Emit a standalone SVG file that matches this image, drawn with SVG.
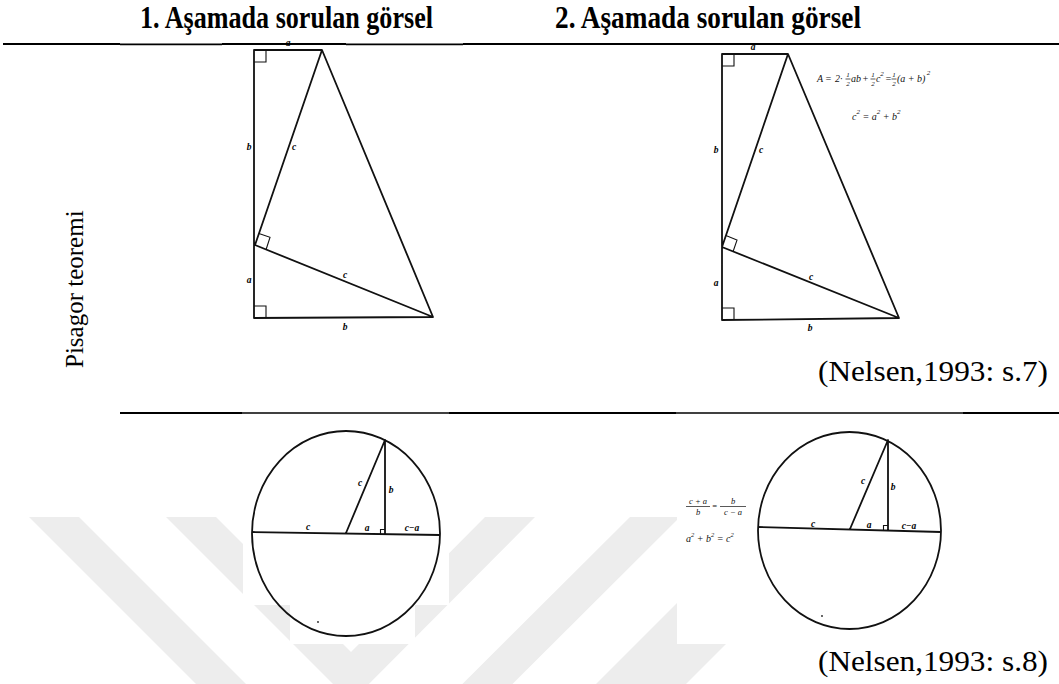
<svg xmlns="http://www.w3.org/2000/svg" width="1059" height="684" viewBox="0 0 1059 684">
<style>
.hdr{font-family:"Liberation Serif","Times New Roman",serif;font-weight:bold;font-size:31px;fill:#000}
.src{font-family:"Liberation Serif","Times New Roman",serif;font-size:30px;fill:#000}
.side{font-family:"Liberation Serif","Times New Roman",serif;font-size:25px;fill:#000}
.lbl{font-family:"Liberation Serif","Times New Roman",serif;font-style:italic;font-weight:bold;font-size:9.5px;fill:#000;text-anchor:middle}
.fm{font-family:"Liberation Serif","Times New Roman",serif;font-style:italic;font-size:10px;fill:#111}
.fs{font-family:"Liberation Serif","Times New Roman",serif;font-style:italic;font-size:7px;fill:#111;text-anchor:middle}
.fb{font-family:"Liberation Serif","Times New Roman",serif;font-style:italic;font-size:8.5px;fill:#111;text-anchor:middle}
.fig{fill:none;stroke:#111;stroke-width:1.8;stroke-linejoin:round}
.thin{fill:none;stroke:#111;stroke-width:1.1}
.bar{stroke:#111;stroke-width:0.7}
.rule{stroke:#000;stroke-width:2.2}
.rule2{stroke:#000;stroke-width:1.7}
.wm{fill:#ededed}
</style>
<rect width="1059" height="684" fill="#fff"/>
<g id="watermark">
<polygon class="wm" points="29,517 79,517 354,792 630,517 680,517 354,842"/>
<polygon class="wm" points="166,517 216,517 351,652 485,517 535,517 351,702"/>
<polygon class="wm" points="720,560 810,560 679,691 589,691"/>
<rect x="243" y="420" width="206" height="185" fill="#fff"/>
<rect x="290" y="604" width="125" height="40" fill="#fff"/>
<rect x="677" y="420" width="283" height="224" fill="#fff"/>
</g>
<g id="header">
<text class="hdr" x="140" y="28" textLength="293" lengthAdjust="spacingAndGlyphs">1. Aşamada sorulan görsel</text>
<text class="hdr" x="555" y="28" textLength="306" lengthAdjust="spacingAndGlyphs">2. Aşamada sorulan görsel</text>
<line class="rule" x1="3" y1="44" x2="120" y2="44"/>
<line class="rule2" x1="120" y1="44.3" x2="222" y2="44.3"/>
<line class="rule" x1="222" y1="44" x2="346" y2="44"/>
<line class="rule2" x1="346" y1="44.3" x2="463" y2="44.3"/>
<line class="rule" x1="463" y1="44" x2="1059" y2="44"/>
<line class="rule" x1="120" y1="413" x2="242" y2="413"/>
<line class="rule2" x1="242" y1="413" x2="449" y2="413"/>
<line class="rule" x1="449" y1="413" x2="676" y2="413"/>
<line class="rule2" x1="676" y1="413" x2="963" y2="413"/>
<line class="rule" x1="963" y1="413" x2="1059" y2="413"/>
</g>
<g id="side-label">
<text class="side" transform="translate(83,368) rotate(-90)">Pisagor teoremi</text>
</g>
<g id="fig1-triangle">
<path class="fig" d="M322,50 L254,50 L254,318 L433,317 Z M322,50 L255,245 L433,317"/>
<path class="thin" d="M254,62 H266 V50 M254,306 H266 V318 M258.9,233.6 L270,237.3 L266.1,249.5"/>
<text class="lbl" x="288" y="46">a</text>
<text class="lbl" x="249" y="150">b</text>
<text class="lbl" x="294" y="150">c</text>
<text class="lbl" x="249" y="283">a</text>
<text class="lbl" x="345" y="278">c</text>
<text class="lbl" x="345" y="330">b</text>
</g>
<g id="fig2-triangle">
<path class="fig" d="M788,54 L722,54 L722,320 L899,318 Z M788,54 L722,247 L899,318"/>
<path class="thin" d="M722,66 H734 V54 M722,308 H734 V320 M725.9,235.6 L737,240.1 L733.1,251.5"/>
<text class="lbl" x="753" y="50">a</text>
<text class="lbl" x="716" y="153">b</text>
<text class="lbl" x="761" y="153">c</text>
<text class="lbl" x="716" y="286">a</text>
<text class="lbl" x="811" y="280">c</text>
<text class="lbl" x="810" y="331">b</text>
<text class="fm" x="817" y="82">A</text>
<text class="fm" x="825" y="82">=</text>
<text class="fm" x="835" y="82">2·</text>
<text class="fs" x="848" y="77">1</text>
<line class="bar" x1="845.5" y1="79" x2="850.5" y2="79"/>
<text class="fs" x="848" y="85.5">2</text>
<text class="fm" x="851" y="82">ab</text>
<text class="fm" x="862" y="82">+</text>
<text class="fs" x="873" y="77">1</text>
<line class="bar" x1="870.5" y1="79" x2="875.5" y2="79"/>
<text class="fs" x="873" y="85.5">2</text>
<text class="fm" x="876" y="82">c</text>
<text class="fs" x="882" y="76">2</text>
<text class="fm" x="885" y="82">=</text>
<text class="fs" x="894" y="77">1</text>
<line class="bar" x1="891.5" y1="79" x2="896.5" y2="79"/>
<text class="fs" x="894" y="85.5">2</text>
<text class="fm" x="897" y="82">(a + b)</text>
<text class="fs" x="928.5" y="75">2</text>
<text class="fm" x="852" y="120">c<tspan dy="-6" font-size="7">2</tspan><tspan dy="6"> = a</tspan><tspan dy="-6" font-size="7">2</tspan><tspan dy="6"> + b</tspan><tspan dy="-6" font-size="7">2</tspan></text>
<text class="src" x="818" y="381" textLength="230" lengthAdjust="spacingAndGlyphs">(Nelsen,1993: s.7)</text>
</g>
<g id="fig3-circle">
<ellipse class="fig" cx="346" cy="533.5" rx="94" ry="102.5"/>
<path class="fig" d="M252,532 L440,535 M346,533 L385,440 L385,534"/>
<path class="thin" d="M380.5,534 V529.5 H385"/>
<circle cx="318" cy="622" r="0.9" fill="#222"/>
<text class="lbl" x="308" y="530">c</text>
<text class="lbl" x="360" y="486">c</text>
<text class="lbl" x="391" y="493">b</text>
<text class="lbl" x="367" y="531">a</text>
<text class="lbl" x="412" y="531">c−a</text>
</g>
<g id="fig4-circle">
<ellipse class="fig" cx="849.5" cy="530.5" rx="91.5" ry="98.5"/>
<path class="fig" d="M758,527 L941,532 M850,529 L888,440 L888,530"/>
<path class="thin" d="M883.5,530 V525.5 H888"/>
<circle cx="822" cy="616" r="0.9" fill="#222"/>
<text class="lbl" x="813" y="527">c</text>
<text class="lbl" x="863" y="484">c</text>
<text class="lbl" x="893" y="490">b</text>
<text class="lbl" x="869" y="528">a</text>
<text class="lbl" x="909" y="529">c−a</text>
<text class="fb" x="698" y="504">c + a</text>
<line class="bar" x1="686" y1="506.5" x2="710" y2="506.5"/>
<text class="fb" x="698" y="514.5">b</text>
<text class="fb" x="714.5" y="509">=</text>
<text class="fb" x="733" y="504">b</text>
<line class="bar" x1="720" y1="506.5" x2="746" y2="506.5"/>
<text class="fb" x="733" y="514.5">c − a</text>
<text class="fm" x="686" y="542" font-size="9">a<tspan dy="-5" font-size="6.5">2</tspan><tspan dy="5"> + b</tspan><tspan dy="-5" font-size="6.5">2</tspan><tspan dy="5"> = c</tspan><tspan dy="-5" font-size="6.5">2</tspan></text>
<text class="src" x="818" y="671" textLength="230" lengthAdjust="spacingAndGlyphs">(Nelsen,1993: s.8)</text>
</g>
</svg>
